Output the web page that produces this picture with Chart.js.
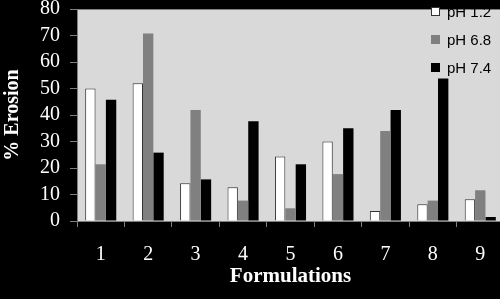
<!DOCTYPE html>
<html>
<head>
<meta charset="utf-8">
<script src="https://cdn.jsdelivr.net/npm/chart.js@4"></script>
<style>
  html, body { margin: 0; padding: 0; background: #000; overflow: hidden; }
  #wrap { width: 500px; height: 299px; overflow: hidden; }
</style>
</head>
<body>
<div id="wrap"><canvas id="chart" width="505" height="299"></canvas></div>
<script>
const formulations = ['1', '2', '3', '4', '5', '6', '7', '8', '9'];
const ph12 = [50, 52, 14.2, 12.7, 24.3, 30, 3.8, 6.3, 8.2];
const ph68 = [21.4, 70.8, 41.9, 7.7, 4.8, 17.7, 34, 7.7, 11.6];
const ph74 = [45.8, 25.8, 15.7, 37.6, 21.4, 35, 41.9, 53.8, 1.5];

// grey plot area
const plotBg = {
    id: 'plotBg',
    beforeDraw(chart) {
        const a = chart.chartArea, ctx = chart.ctx;
        ctx.save();
        ctx.fillStyle = '#d9d9d9';
        ctx.fillRect(a.left, a.top, a.right - a.left, a.bottom - a.top);
        ctx.strokeStyle = '#808080';
        ctx.lineWidth = 1;
        ctx.beginPath();
        ctx.moveTo(a.left, a.top + 0.5);
        ctx.lineTo(a.right, a.top + 0.5);
        ctx.stroke();
        ctx.restore();
    }
};

// legend drawn inside the plot, top right
const innerLegend = {
    id: 'innerLegend',
    afterDatasetsDraw(chart) {
        const ctx = chart.ctx;
        ctx.save();
        ctx.font = '15px "Liberation Sans", Arial, sans-serif';
        ctx.textBaseline = 'middle';
        ctx.textAlign = 'left';
        chart.data.datasets.forEach((ds, i) => {
            const y = 12 + i * 28;
            ctx.fillStyle = ds.backgroundColor;
            ctx.fillRect(431, y - 5, 9, 9);
            if (ds.borderWidth) {
                ctx.strokeStyle = ds.borderColor;
                ctx.lineWidth = 1;
                ctx.strokeRect(431.5, y - 4.5, 8, 8);
            }
            ctx.fillStyle = '#000';
            ctx.fillText(ds.label, 447, y + 1);
        });
        ctx.restore();
    }
};

new Chart(document.getElementById('chart').getContext('2d'), {
    type: 'bar',
    data: {
        labels: formulations,
        datasets: [
            { label: 'pH 1.2', data: ph12, backgroundColor: '#ffffff', borderColor: '#333333', borderWidth: 1 },
            { label: 'pH 6.8', data: ph68, backgroundColor: '#808080', borderWidth: 0 },
            { label: 'pH 7.4', data: ph74, backgroundColor: '#000000', borderWidth: 0 }
        ]
    },
    options: {
        responsive: false,
        animation: false,
        layout: { padding: { top: 9, right: 1, bottom: 0, left: 0 } },
        datasets: { bar: { categoryPercentage: 0.655, barPercentage: 1 } },
        plugins: { legend: { display: false }, tooltip: { enabled: false } },
        scales: {
            x: {
                afterFit: s => { s.height = 78; s.paddingLeft = 0; s.paddingRight = 0; },
                grid: { drawOnChartArea: false, color: '#808080', tickLength: 6 },
                border: { color: '#808080' },
                ticks: { color: '#ffffff', padding: 16, font: { family: '"Liberation Serif", "Times New Roman", serif', size: 20 } },
                title: {
                    display: true, text: 'Formulations', color: '#ffffff',
                    padding: { top: 0, bottom: 10 },
                    font: { family: '"Liberation Serif", "Times New Roman", serif', size: 21, weight: 'bold' }
                }
            },
            y: {
                min: 0, max: 80,
                afterFit: s => { s.width = 77; s.paddingTop = 0; s.paddingBottom = 0; },
                grid: { drawOnChartArea: false, color: '#808080', tickLength: 7 },
                border: { color: '#808080' },
                ticks: { stepSize: 10, autoSkip: false, color: '#ffffff', padding: 10, font: { family: '"Liberation Serif", "Times New Roman", serif', size: 20 } },
                title: {
                    display: true, text: '% Erosion', color: '#ffffff',
                    padding: { top: 1, bottom: 0 },
                    font: { family: '"Liberation Serif", "Times New Roman", serif', size: 20, weight: 'bold' }
                }
            }
        }
    },
    plugins: [plotBg, innerLegend]
});
</script>
</body>
</html>
